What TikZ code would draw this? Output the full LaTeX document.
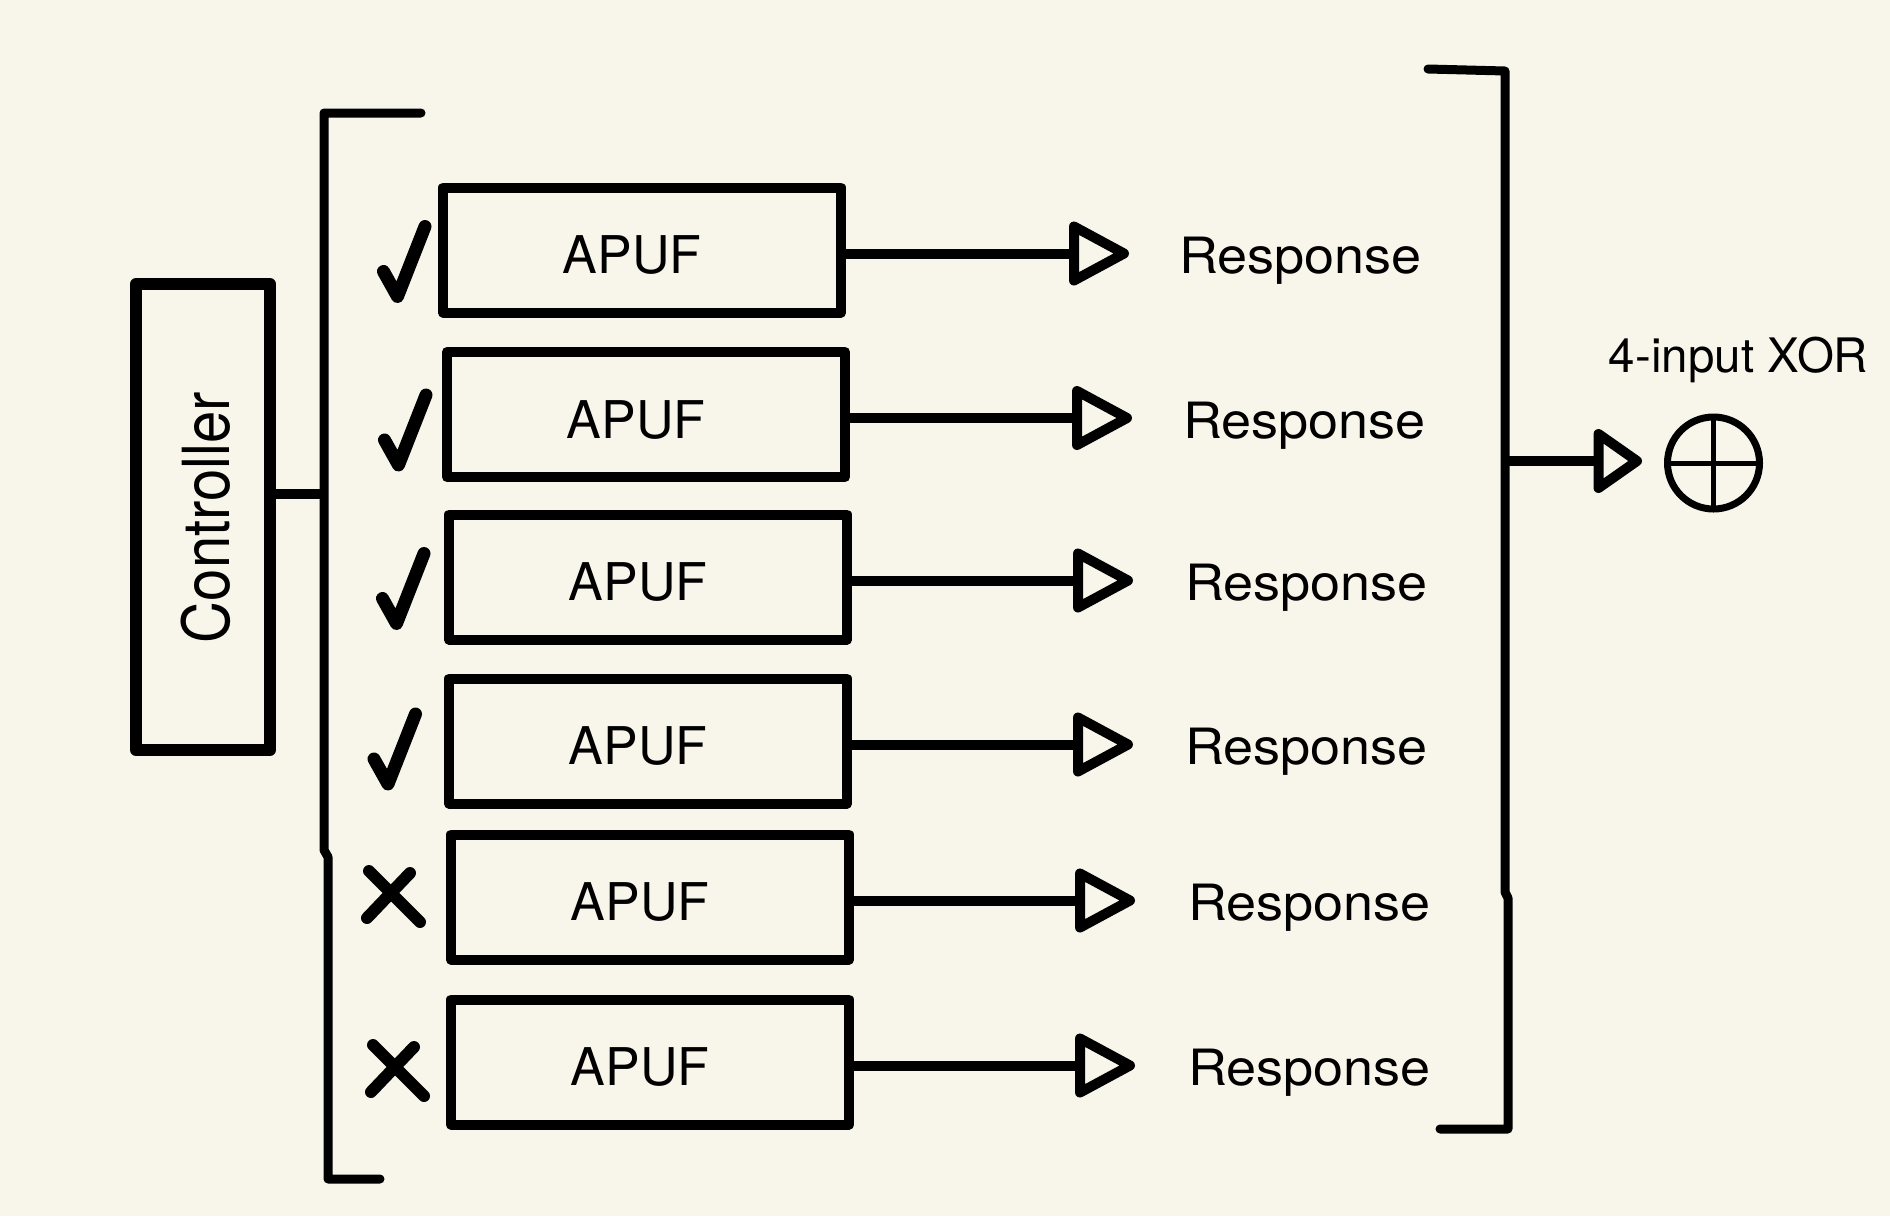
\documentclass[tikz,border=0pt]{standalone}
\usepackage{fontspec}
\setmainfont{TeX Gyre Heros}
\usetikzlibrary{calc}
\definecolor{bgc}{RGB}{248,246,235}
\newcommand{\myfs}[1]{\fontsize{#1pt}{#1pt}\selectfont}
\begin{document}
\begin{tikzpicture}[x=1pt,y=-1pt,
  ctrlbox/.style={draw, line width=12pt, minimum width=134pt, minimum height=466pt, inner sep=0pt, outer sep=0pt, line join=round},
  apufbox/.style={draw, line width=10pt, minimum width=398pt, minimum height=125pt, inner sep=0pt, outer sep=0pt, line join=round},
  lbl/.style={inner sep=0pt, outer sep=0pt, font=\myfs{52}},
  wire/.style={line width=10pt},
  tri/.style={line width=10pt, line join=round},
  brk/.style={line width=9pt, line cap=round, line join=round},
  okmark/.style={line width=13pt, line cap=round, line join=round},
  nomark/.style={line width=12pt, line cap=round},
  xorgate/.style={circle, draw, line width=7pt, minimum size=92pt, inner sep=0pt, outer sep=0pt}
]
\fill[bgc] (0,0) rectangle (1890,1216);
\useasboundingbox (0,0) rectangle (1890,1216);

% controller
\node[ctrlbox] (ctrl) at (203,517) {};
\node[lbl, font=\myfs{58}, rotate=90] (ctrltxt) at (206,517.5) {\scalebox{1.0}[1.12]{Controller}};

% brackets
\draw[brk] (421,113) -- (324,113) -- (324,850) -- (328,857) -- (328,1179) -- (380,1179);
\draw[brk] (1428,69) -- (1505,71) -- (1505,892) -- (1508,898) -- (1508,1129) -- (1440,1129);

\coordinate (lb) at (324,494);
\draw[wire] (ctrl.east |- lb) -- (lb);

% rows
\foreach \i/\bx/\by/\tx/\rx in {1/642/250/1074/1183, 2/646/414.5/1077/1187, 3/648/577/1078/1189, 4/648/741/1078/1189, 5/650/897/1080/1192, 6/650/1062/1080/1192}{
  \node[apufbox] (b\i) at (\bx,\by) {};
  \node[lbl, anchor=base] (a\i) at (\bx-10,\by+23.5) {APUF};
  \coordinate (t\i) at (\tx,\by+3.5);
  \draw[wire] ([yshift=-3.5pt]b\i.east) -- (t\i);
  \draw[tri] (t\i) -- ++(0,-27) -- ++(50,27) -- ++(-50,27) -- cycle;
  \node[lbl, font=\myfs{50}, anchor=base west] (r\i) at (\rx-4,\by+23.5) {\scalebox{1.08}[1]{Response}};
}

% check marks
\foreach \cx/\cy in {404.5/261.5, 405.5/430, 403.5/588.5, 395/749}{
  \draw[okmark] (\cx-21,\cy+10) -- (\cx-7,\cy+35) -- (\cx+20.5,\cy-35);
}
% cross marks
\foreach \cx/\cy in {394/897, 398/1071}{
  \draw[nomark] (\cx-25,\cy-26) -- (\cx+26,\cy+25);
  \draw[nomark] (\cx+16,\cy-24) -- (\cx-27,\cy+21);
}

% XOR
\coordinate (rb) at (1505,461);
\coordinate (tx) at (1598.5,461);
\draw[wire] (rb) -- (tx);
\draw[tri] (tx) -- ++(0,-27) -- ++(38.5,27) -- ++(-38.5,27) -- cycle;
\node[xorgate] (xor) at (1713.5,463) {};
\draw[line width=5pt] (xor.north) -- (xor.south) (xor.west) -- (xor.east);
\node[lbl, font=\myfs{47.5}, anchor=base] (xorlbl) at (1738.5,372) {4-input XOR};
\end{tikzpicture}
\end{document}
